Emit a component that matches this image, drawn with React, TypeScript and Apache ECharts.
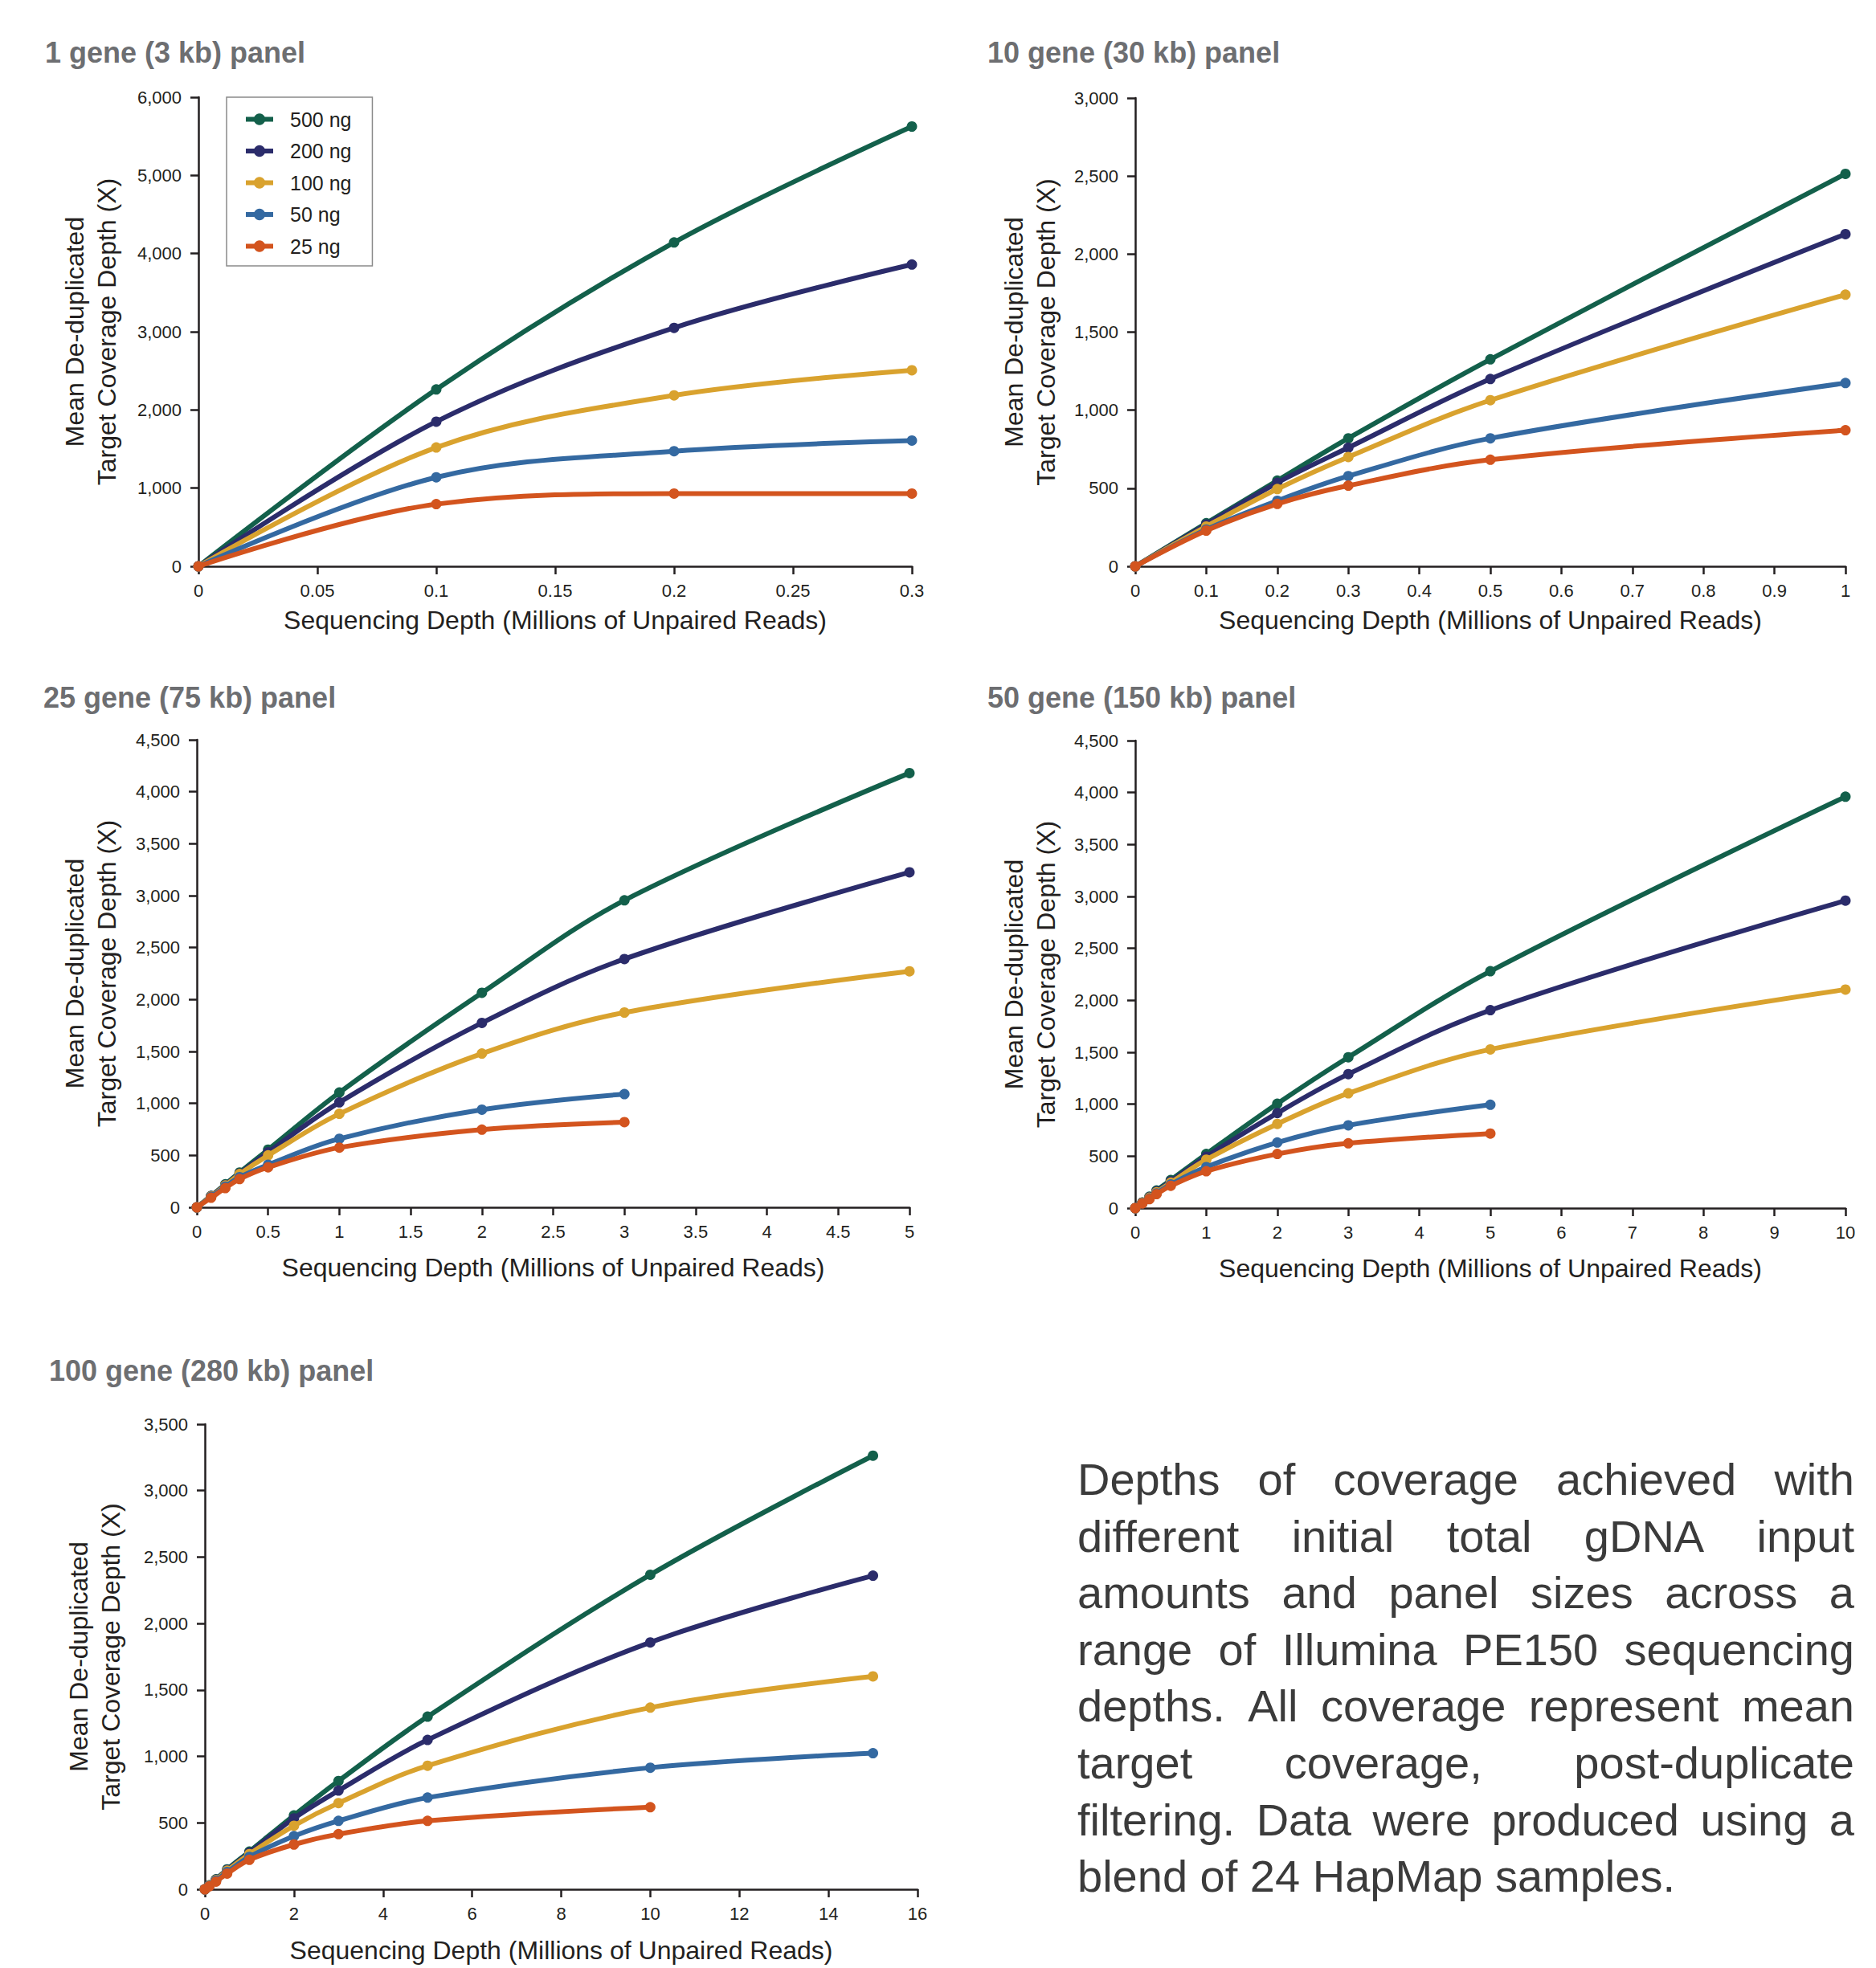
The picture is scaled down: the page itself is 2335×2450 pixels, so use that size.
import React, { useEffect, useRef } from "react";
import * as echarts from "echarts";

// ---------- data ----------
const seriesNames = ["500 ng", "200 ng", "100 ng", "50 ng", "25 ng"];

const panelTitles = [
  "1 gene (3 kb) panel",
  "10 gene (30 kb) panel",
  "25 gene (75 kb) panel",
  "50 gene (150 kb) panel",
  "100 gene (280 kb) panel",
];

const xAxisTitle = "Sequencing Depth (Millions of Unpaired Reads)";
const yAxisTitle = "Mean De-duplicated\nTarget Coverage Depth (X)";

// panel 1: 1 gene (3 kb)
const p1X = [0, 0.1, 0.2, 0.3];
const p1Y500 = [0, 2262, 4142, 5625];
const p1Y200 = [0, 1850, 3050, 3860];
const p1Y100 = [0, 1520, 2186, 2508];
const p1Y50 = [0, 1138, 1472, 1608];
const p1Y25 = [0, 795, 930, 930];

// panel 2: 10 gene (30 kb)
const p2X = [0, 0.1, 0.2, 0.3, 0.5, 1];
const p2Y500 = [0, 276, 549, 820, 1326, 2514];
const p2Y200 = [0, 268, 535, 760, 1200, 2128];
const p2Y100 = [0, 255, 495, 700, 1064, 1740];
const p2Y50 = [0, 236, 420, 578, 820, 1174];
const p2Y25 = [0, 229, 400, 517, 683, 872];

// panel 3: 25 gene (75 kb)
const p3X = [0, 0.1, 0.2, 0.3, 0.5, 1, 2, 3, 5];
const p3Y500 = [0, 110, 222, 335, 555, 1105, 2065, 2955, 4180];
const p3Y200 = [0, 108, 215, 325, 530, 1010, 1775, 2390, 3225];
const p3Y100 = [0, 105, 210, 320, 500, 900, 1480, 1875, 2272];
const p3Y50 = [0, 100, 200, 290, 410, 660, 940, 1090];
const p3Y25 = [0, 92, 185, 272, 385, 575, 748, 820];

// panel 4: 50 gene (150 kb)
const p4X = [0, 0.1, 0.2, 0.3, 0.5, 1, 2, 3, 5, 10];
const p4Y500 = [0, 55, 110, 170, 270, 521, 1005, 1452, 2280, 3960];
const p4Y200 = [0, 53, 105, 160, 258, 495, 915, 1290, 1905, 2960];
const p4Y100 = [0, 52, 100, 152, 245, 466, 810, 1105, 1528, 2104];
const p4Y50 = [0, 48, 92, 142, 228, 395, 632, 797, 995];
const p4Y25 = [0, 45, 87, 135, 215, 355, 521, 624, 718];

// panel 5: 100 gene (280 kb)
const p5X = [0, 0.1, 0.25, 0.5, 1, 2, 3, 5, 10, 15];
const p5Y500 = [0, 30, 75, 150, 284, 556, 815, 1299, 2367, 3263];
const p5Y200 = [0, 29, 72, 145, 275, 534, 743, 1124, 1858, 2360];
const p5Y100 = [0, 28, 70, 140, 265, 478, 649, 930, 1367, 1602];
const p5Y50 = [0, 26, 65, 130, 244, 400, 515, 690, 915, 1024];
const p5Y25 = [0, 22, 58, 118, 222, 337, 415, 515, 618];

const panelX = [p1X, p2X, p3X, p4X, p5X];
const panelY = [
  [p1Y500, p1Y200, p1Y100, p1Y50, p1Y25],
  [p2Y500, p2Y200, p2Y100, p2Y50, p2Y25],
  [p3Y500, p3Y200, p3Y100, p3Y50, p3Y25],
  [p4Y500, p4Y200, p4Y100, p4Y50, p4Y25],
  [p5Y500, p5Y200, p5Y100, p5Y50, p5Y25],
];

// axis ranges
const xMaxes = [0.3, 1, 5, 10, 16];
const xIntervals = [0.05, 0.1, 0.5, 1, 2];
const yMaxes = [6000, 3000, 4500, 4500, 3500];
const yIntervals = [1000, 500, 500, 500, 500];

const captionLines = [
  "Depths of coverage achieved with",
  "different initial total gDNA input",
  "amounts and panel sizes across a",
  "range of Illumina PE150 sequencing",
  "depths. All coverage represent mean",
  "target coverage, post-duplicate",
  "filtering. Data were produced using a",
  "blend of 24 HapMap samples.",
];

// ---------- styles / layout ----------
const seriesColors = ["#13604b", "#2b2c6b", "#d9a22e", "#3469a1", "#d3541e"];
const FONT = "Liberation Sans, Arial, Helvetica, sans-serif";
const INK = "#231f20";
const TITLE_GRAY = "#6d6e71";

const gridBoxes = [
  { left: 247, top: 121, width: 888, height: 584 },
  { left: 1413, top: 122, width: 884, height: 583 },
  { left: 245, top: 921, width: 887, height: 582 },
  { left: 1413, top: 922, width: 884, height: 582 },
  { left: 255, top: 1773, width: 887, height: 579 },
];
const titlePos = [
  [56, 45],
  [1229, 45],
  [54, 848],
  [1229, 848],
  [61, 1686],
];
const xNameGaps = [51, 51, 59, 59, 60];
const yNameGaps = [94, 91, 92, 91, 97];

function fmtX(v: number) {
  return String(Math.round(v * 1000) / 1000);
}
function fmtY(v: number) {
  return Math.round(v).toLocaleString("en-US");
}

function buildCaption() {
  const fontSize = 56;
  const left = 1341;
  const right = 2308;
  const base0 = 1861;
  const lh = 70.6;
  const canvas = document.createElement("canvas");
  const ctx = canvas.getContext("2d") as CanvasRenderingContext2D;
  ctx.font = `${fontSize}px "Liberation Sans", Arial, sans-serif`;
  const els: any[] = [];
  captionLines.forEach((line, i) => {
    const words = line.split(" ");
    const widths = words.map((w) => ctx.measureText(w).width);
    const total = widths.reduce((a, b) => a + b, 0);
    const last = i === captionLines.length - 1;
    const gap =
      last || words.length < 2
        ? ctx.measureText(" ").width
        : (right - left - total) / (words.length - 1);
    let x = left;
    const yMid = base0 + i * lh - 0.3465 * fontSize;
    words.forEach((w, j) => {
      els.push({
        type: "text",
        x,
        y: yMid,
        silent: true,
        style: {
          text: w,
          fontSize,
          fontFamily: FONT,
          fill: "#3b3b3b",
          textAlign: "left",
          textVerticalAlign: "middle",
        },
      });
      x += widths[j] + gap;
    });
  });
  return els;
}

export default function App() {
  const ref = useRef<HTMLDivElement>(null);

  useEffect(() => {
    document.body.style.margin = "0";
    if (!ref.current) return;
    const chart = echarts.init(ref.current, undefined, { renderer: "svg" });

    const grids = gridBoxes.map((g) => ({
      ...g,
      containLabel: false,
      outerBoundsMode: "none",
    }));

    const xAxes = gridBoxes.map((_, i) => ({
      type: "value",
      gridIndex: i,
      min: 0,
      max: xMaxes[i],
      interval: xIntervals[i],
      name: xAxisTitle,
      nameLocation: "middle",
      nameGap: xNameGaps[i],
      nameMoveOverlap: false,
      nameTextStyle: {
        fontFamily: FONT,
        fontSize: 32,
        lineHeight: 32,
        color: INK,
      },
      axisLine: {
        show: true,
        onZero: false,
        lineStyle: { color: INK, width: 2.5 },
      },
      axisTick: {
        show: true,
        inside: false,
        length: 10,
        lineStyle: { color: INK, width: 2.5 },
      },
      axisLabel: {
        show: true,
        margin: 19,
        fontFamily: FONT,
        fontSize: 22,
        color: INK,
        showMinLabel: true,
        showMaxLabel: true,
        hideOverlap: false,
        formatter: fmtX,
      },
      splitLine: { show: false },
    }));

    const yAxes = gridBoxes.map((_, i) => ({
      type: "value",
      gridIndex: i,
      min: 0,
      max: yMaxes[i],
      interval: yIntervals[i],
      name: yAxisTitle,
      nameLocation: "middle",
      nameRotate: 90,
      nameGap: yNameGaps[i],
      nameMoveOverlap: false,
      nameTextStyle: {
        fontFamily: FONT,
        fontSize: 32,
        lineHeight: 40,
        color: INK,
        align: "center",
      },
      axisLine: {
        show: true,
        onZero: false,
        lineStyle: { color: INK, width: 2.5 },
      },
      axisTick: {
        show: true,
        inside: false,
        length: 10,
        lineStyle: { color: INK, width: 2.5 },
      },
      axisLabel: {
        show: true,
        margin: 21,
        fontFamily: FONT,
        fontSize: 22,
        color: INK,
        showMinLabel: true,
        showMaxLabel: true,
        hideOverlap: false,
        formatter: fmtY,
      },
      splitLine: { show: false },
    }));

    const series: any[] = [];
    panelX.forEach((xs, p) => {
      panelY[p].forEach((ys, s) => {
        series.push({
          type: "line",
          name: seriesNames[s],
          xAxisIndex: p,
          yAxisIndex: p,
          data: ys.map((y, k) => [xs[k], y]),
          smooth: 0.35,
          symbol: "circle",
          symbolSize: 13,
          showSymbol: true,
          showAllSymbol: true,
          clip: false,
          lineStyle: { color: seriesColors[s], width: 6 },
          itemStyle: { color: seriesColors[s] },
          emphasis: { disabled: true },
          z: 2 + s,
        });
      });
    });

    const titles = panelTitles.map((t, i) => ({
      text: t,
      left: titlePos[i][0],
      top: titlePos[i][1],
      padding: 0,
      textStyle: {
        fontFamily: FONT,
        fontSize: 36,
        fontWeight: "bold",
        color: TITLE_GRAY,
        lineHeight: 40,
      },
    }));

    chart.setOption({
      animation: false,
      backgroundColor: "#ffffff",
      title: titles,
      grid: grids,
      xAxis: xAxes,
      yAxis: yAxes,
      legend: {
        data: seriesNames,
        orient: "vertical",
        left: 282,
        top: 121,
        padding: [15, 26, 12, 21],
        itemWidth: 34,
        itemHeight: 18,
        itemGap: 14.5,
        borderColor: "#8a8a8a",
        borderWidth: 1.5,
        borderRadius: 0,
        selectedMode: false,
        lineStyle: { width: 6 },
        textStyle: {
          fontFamily: FONT,
          fontSize: 25,
          lineHeight: 24,
          color: INK,
          padding: [0, 0, 0, 16],
        },
      },
      graphic: buildCaption(),
      series,
    });

    return () => chart.dispose();
  }, []);

  return (
    <div
      ref={ref}
      style={{ width: 2335, height: 2450, background: "#ffffff" }}
    />
  );
}
